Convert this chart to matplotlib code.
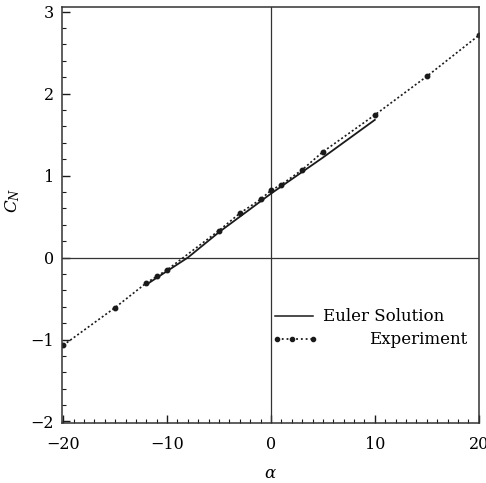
import numpy as np
import matplotlib
matplotlib.use('Agg')
import matplotlib.pyplot as plt
from matplotlib.ticker import MultipleLocator

# Experiment data (alpha in deg, normal force coefficient)
alpha_exp = [-20, -15, -12, -11, -10, -5, -3, -1, 0, 1, 3, 5, 10, 15, 20]
cn_exp = [-1.07, -0.61, -0.31, -0.23, -0.15, 0.33, 0.54, 0.71, 0.82, 0.89, 1.07, 1.29, 1.74, 2.21, 2.71]

# Euler solution
alpha_euler = [-12, -8, -5, 0, 5, 10]
cn_euler = [-0.33, 0.0, 0.31, 0.78, 1.22, 1.68]

xticks = [-20, -10, 0, 10, 20]
yticks = [-2, -1, 0, 1, 2, 3]

plt.rcParams['font.family'] = 'DejaVu Serif'
plt.rcParams['mathtext.fontset'] = 'dejavuserif'

fig = plt.figure(figsize=(4.86, 4.83), dpi=100)
ax = fig.add_axes([0.128, 0.124, 0.858, 0.862])

ink = '#1a1a1a'
ax.axhline(0, color='#333333', lw=0.9)
ax.axvline(0, color='#333333', lw=0.9)

ax.plot(alpha_euler, cn_euler, '-', color=ink, lw=1.3)
ax.plot(alpha_exp, cn_exp, ':', color=ink, lw=1.2, marker='o', ms=3.2,
        dashes=(1.2, 1.4))

ax.set_xlim(-20.1, 20.05)
ax.set_ylim(-2.02, 3.06)
ax.set_xticks(xticks)
ax.set_yticks(yticks)
ax.set_xticklabels([str(t).replace('-', '\u2212') for t in xticks])
ax.set_yticklabels([str(t).replace('-', '\u2212') for t in yticks])
ax.xaxis.set_minor_locator(MultipleLocator(1))
ax.yaxis.set_minor_locator(MultipleLocator(0.2))
ax.tick_params(which='both', direction='in', color=ink, labelsize=11.5)
ax.tick_params(which='major', length=6, width=1)
ax.tick_params(which='minor', length=3, width=0.8)
ax.tick_params(axis='x', pad=9)
ax.tick_params(axis='y', pad=6)
for s in ax.spines.values():
    s.set_color('#333333')
    s.set_linewidth(1.1)

ax.set_xlabel(r'$\alpha$', fontsize=12)
ax.set_ylabel(r'$C_N$', fontsize=12)
ax.xaxis.set_label_coords(0.5, -0.1)
ax.yaxis.set_label_coords(-0.096, 0.536)

# legend drawn by hand
tr = ax.transAxes
ax.plot([0.511, 0.602], [0.257, 0.257], '-', color=ink, lw=1.1, transform=tr)
ax.plot([0.516, 0.552, 0.602], [0.202, 0.202, 0.202], ':', color=ink, lw=1.3,
        marker='o', ms=3, transform=tr)
ax.text(0.626, 0.257, 'Euler Solution', transform=tr, ha='left', va='center', fontsize=12)
ax.text(0.971, 0.202, 'Experiment', transform=tr, ha='right', va='center', fontsize=12)

plt.savefig('out.png', dpi=100)
